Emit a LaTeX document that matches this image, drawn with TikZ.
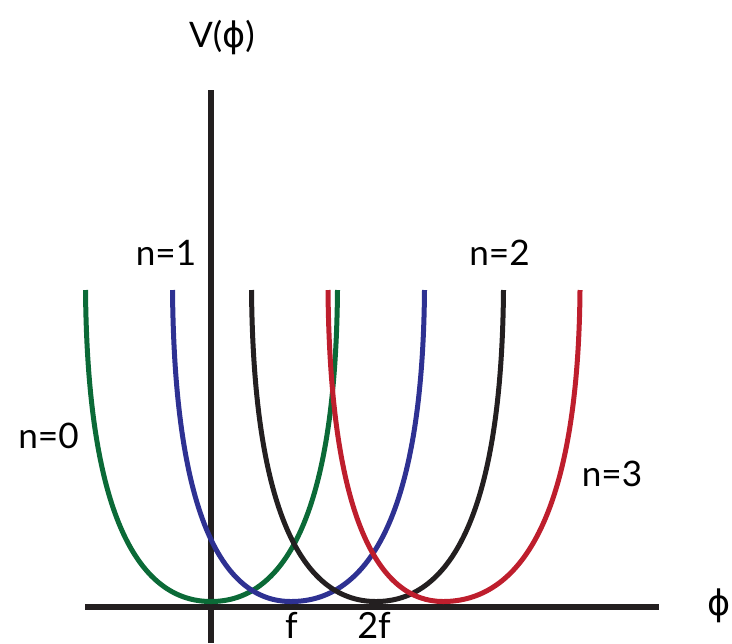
\documentclass[tikz,border=0pt]{standalone}
\usepackage{fontspec}
\setmainfont{Lato}
\newfontfamily\phifont{DejaVu Sans}
\definecolor{wellgreen}{HTML}{0B6A37}
\definecolor{wellblue}{HTML}{2E3192}
\definecolor{wellblack}{HTML}{231F20}
\definecolor{wellred}{HTML}{BE1E2D}

\begin{document}
\begin{tikzpicture}[x=0.02cm,y=-0.02cm]

    \tikzset{
      axis/.style={
        draw=wellblack,
        line width=0.12cm,
      },
      well/.style={
        line width=0.1cm,
      },
      nlabel/.style={
        anchor=base,
        inner sep=0pt,
        font=\fontsize{20}{24}\selectfont,
      },
      ticklabel/.style={
        anchor=base,
        inner sep=0pt,
        font=\fontsize{20.5}{24}\selectfont,
      },
    }
    \useasboundingbox (0,0) rectangle (732,643);
    % axes
    \draw[axis] (211,90) -- (211,643);
    \draw[axis] (85,607) -- (659,607);
    % the four wells, n=0 to n=3
    \draw[well, wellgreen] (85.5,290) .. controls (87.5,521.5) and (141.3,601.5) .. (211,601.5) .. controls (281.3,601.5) and (335.5,521.5) .. (337.5,290);
    \draw[well, wellblue] (172.5,290) .. controls (174.5,521.5) and (225.2,601.5) .. (291,601.5) .. controls (365.2,601.5) and (422.5,521.5) .. (424.5,290);
    \draw[well, wellblack] (251.5,290) .. controls (253.5,521.5) and (306.8,601.5) .. (376,601.5) .. controls (446.8,601.5) and (501.5,521.5) .. (503.5,290);
    \draw[well, wellred] (328,290) .. controls (330,521.5) and (380,601.5) .. (443,601.5) .. controls (518,601.5) and (578,521.5) .. (580,290);
    % labels
    \node[ticklabel, font=\fontsize{20}{24}\selectfont] (vlabel) at (222,47) {V({\phifont ϕ})};
    \node[anchor=center, inner sep=0pt, font=\fontsize{20}{24}\selectfont\phifont] (philabel) at (719,606) {ϕ};
    \node[nlabel] (nzero) at (48.5,448) {n=0};
    \node[nlabel] (none) at (166,265) {n=1};
    \node[nlabel] (ntwo) at (499.5,265) {n=2};
    \node[nlabel] (nthree) at (612,486) {n=3};
    \node[ticklabel] (fone) at (291.5,638) {f};
    \node[ticklabel] (ftwo) at (374,638) {2f};

\end{tikzpicture}
\end{document}
